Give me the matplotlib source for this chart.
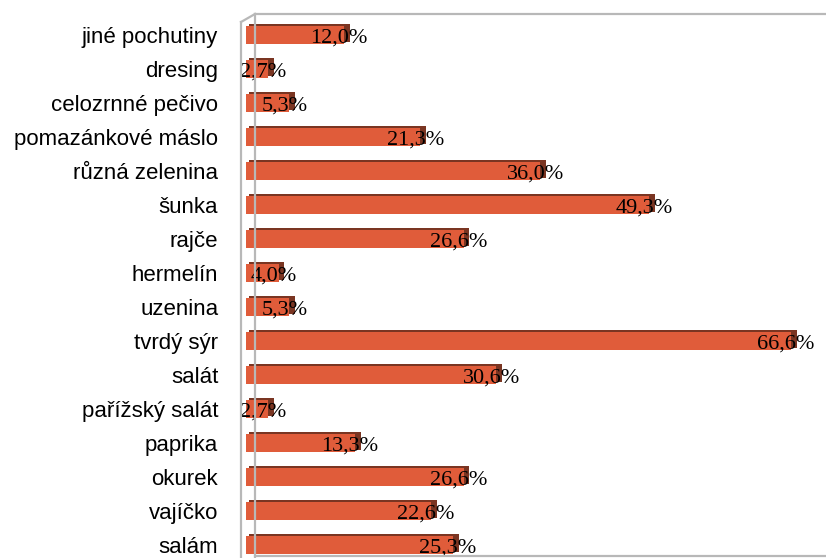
import matplotlib
matplotlib.use("Agg")
import matplotlib.pyplot as plt
from matplotlib.lines import Line2D
import numpy as np

categories = ["jiné pochutiny", "dresing", "celozrnné pečivo", "pomazánkové máslo",
              "různá zelenina", "šunka", "rajče", "hermelín", "uzenina", "tvrdý sýr",
              "salát", "pařížský salát", "paprika", "okurek", "vajíčko", "salám"]
values = [12.0, 2.7, 5.3, 21.3, 36.0, 49.3, 26.6, 4.0, 5.3, 66.6, 30.6, 2.7, 13.3, 26.6, 22.6, 25.3]
labels = ["12,0%", "2,7%", "5,3%", "21,3%", "36,0%", "49,3%", "26,6%", "4,0%", "5,3%",
          "66,6%", "30,6%", "2,7%", "13,3%", "26,6%", "22,6%", "25,3%"]

W, H = 826, 558
fig = plt.figure(figsize=(W / 100, H / 100), dpi=100)
x0_px, top_px = 246, 14
ax = fig.add_axes([x0_px / W, 0, 1 - x0_px / W, (H - top_px) / H])
ax.set_facecolor("none")

y = np.arange(len(categories))
ax.set_xlim(0, 70.9)
ax.set_ylim(15.38, -0.62)

# shadow / depth of 3D bars
ax.barh(y - 0.06, np.array(values) + 0.35, height=0.54, left=0.35, color="#7a3522", zorder=2)
ax.barh(y, values, height=0.54, color="#E05C3A", zorder=3)

for yi, v, lab in zip(y, values, labels):
    ax.text(v - 0.6, yi + 0.08, lab, ha="center", va="center", fontsize=16,
            family="Liberation Serif", color="black", zorder=5)

ax.set_yticks(y)
ax.set_yticklabels(categories, family="Liberation Sans", fontsize=16)
ax.tick_params(axis="y", length=0, pad=20)
ax.set_xticks([])
for s in ax.spines.values():
    s.set_visible(False)

gray = "#b8b8b8"
def fx(px):
    return px / W
def fy(py):
    return 1 - py / H
lines = [
    ((255, 255), (14, 558)),   # back wall
    ((241, 241), (22, 558)),   # front wall
    ((241, 255), (22, 14)),    # top diagonal
    ((255, 826), (14, 14)),    # top border
    ((255, 826), (556, 556)),  # floor
]
for xs, ys in lines:
    fig.add_artist(Line2D([fx(xs[0]), fx(xs[1])], [fy(ys[0]), fy(ys[1])],
                          color=gray, lw=1.6, zorder=1))

fig.savefig("out.png", dpi=100)
